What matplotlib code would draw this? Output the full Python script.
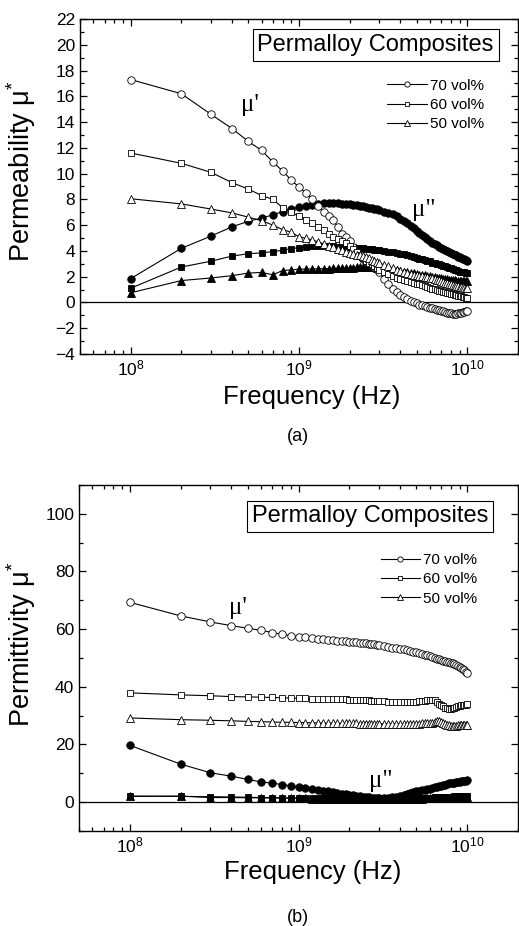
import matplotlib
matplotlib.use("Agg")
import matplotlib.pyplot as plt
from matplotlib.ticker import MultipleLocator, LogLocator, NullFormatter

plt.rcParams["font.family"] = ["Liberation Sans", "DejaVu Sans"]
plt.rcParams["mathtext.default"] = "regular"

# measurement frequencies (GHz)
freq_ghz = [0.1, 0.2, 0.3, 0.4, 0.5, 0.6, 0.7, 0.8, 0.9,
            1.0, 1.1, 1.2, 1.3, 1.4, 1.5, 1.6, 1.7, 1.8, 1.9,
            2.0, 2.1, 2.2, 2.3, 2.4, 2.5, 2.6, 2.7, 2.8, 2.9,
            3.0, 3.2, 3.4, 3.6, 3.8, 4.0, 4.2, 4.4, 4.6, 4.8,
            5.0, 5.2, 5.4, 5.6, 5.8, 6.0, 6.2, 6.4, 6.6, 6.8,
            7.0, 7.2, 7.4, 7.6, 7.8, 8.0, 8.2, 8.4, 8.6, 8.8,
            9.0, 9.2, 9.4, 9.6, 9.8, 10.0]

labels = ["70 vol%", "60 vol%", "50 vol%"]

# (a) permeability, real part
mu1_70 = [17.3, 16.2, 14.6, 13.5, 12.5, 11.8, 10.9, 10.2, 9.5,
          8.95, 8.5, 8.0, 7.45, 7.0, 6.7, 6.4, 5.85, 5.3, 5.05,
          4.8, 4.3, 3.9, 3.6, 3.4, 3.2, 3.05, 2.9, 2.75, 2.6,
          2.35, 1.8, 1.4, 1.05, 0.78, 0.58, 0.42, 0.28, 0.14, 0.02,
          -0.08, -0.16, -0.23, -0.29, -0.35, -0.4, -0.46, -0.52, -0.57, -0.62,
          -0.66, -0.7, -0.74, -0.78, -0.82, -0.85, -0.87, -0.87, -0.86, -0.84,
          -0.81, -0.78, -0.75, -0.72, -0.69, -0.66]
mu1_60 = [11.6, 10.8, 10.1, 9.3, 8.8, 8.3, 8.0, 7.35, 7.0,
          6.7, 6.4, 6.15, 5.85, 5.6, 5.35, 5.1, 4.95, 4.75, 4.6,
          4.4, 4.15, 3.9, 3.65, 3.45, 3.25, 3.1, 2.95, 2.8, 2.65,
          2.5, 2.35, 2.2, 2.05, 1.92, 1.85, 1.77, 1.68, 1.6, 1.52,
          1.45, 1.4, 1.33, 1.27, 1.2, 1.13, 1.08, 1.02, 0.97, 0.92,
          0.88, 0.83, 0.79, 0.75, 0.71, 0.67, 0.63, 0.6, 0.56, 0.53,
          0.5, 0.47, 0.44, 0.41, 0.38, 0.35]
mu1_50 = [8.05, 7.65, 7.25, 6.95, 6.62, 6.35, 6.0, 5.65, 5.45,
          5.1, 4.98, 4.85, 4.7, 4.55, 4.42, 4.3, 4.17, 4.05, 3.95,
          3.85, 3.78, 3.72, 3.66, 3.6, 3.51, 3.42, 3.33, 3.25, 3.15,
          3.06, 2.92, 2.8, 2.66, 2.54, 2.45, 2.37, 2.3, 2.22, 2.15,
          2.1, 2.06, 2.02, 1.98, 1.94, 1.9, 1.86, 1.81, 1.76, 1.71,
          1.66, 1.6, 1.54, 1.49, 1.44, 1.4, 1.36, 1.32, 1.28, 1.25,
          1.22, 1.19, 1.17, 1.15, 1.13, 1.12]

# (a) permeability, imaginary part
mu2_70 = [1.85, 4.2, 5.15, 5.87, 6.3, 6.55, 6.8, 7.05, 7.25,
          7.4, 7.5, 7.6, 7.65, 7.7, 7.72, 7.72, 7.7, 7.68, 7.65,
          7.62, 7.6, 7.57, 7.52, 7.47, 7.42, 7.37, 7.32, 7.27, 7.22,
          7.15, 7.05, 6.95, 6.85, 6.7, 6.5, 6.35, 6.15, 5.95, 5.75,
          5.55, 5.4, 5.2, 5.05, 4.9, 4.8, 4.65, 4.55, 4.45, 4.3,
          4.2, 4.15, 4.1, 4.0, 3.95, 3.85, 3.8, 3.7, 3.65, 3.55,
          3.5, 3.45, 3.4, 3.35, 3.3, 3.25]
mu2_60 = [1.1, 2.75, 3.2, 3.6, 3.78, 3.85, 3.95, 4.05, 4.18,
          4.25, 4.3, 4.35, 4.35, 4.35, 4.35, 4.35, 4.33, 4.3, 4.3,
          4.3, 4.28, 4.25, 4.23, 4.2, 4.18, 4.15, 4.13, 4.1, 4.08,
          4.05, 4.0, 3.95, 3.9, 3.85, 3.8, 3.75, 3.65, 3.6, 3.5,
          3.45, 3.4, 3.35, 3.3, 3.25, 3.2, 3.1, 3.05, 3.0, 2.95,
          2.9, 2.85, 2.8, 2.75, 2.7, 2.65, 2.6, 2.55, 2.5, 2.45,
          2.4, 2.4, 2.35, 2.35, 2.3, 2.3]
mu2_50 = [0.75, 1.7, 1.9, 2.08, 2.28, 2.33, 2.15, 2.48, 2.53,
          2.58, 2.59, 2.6, 2.61, 2.62, 2.63, 2.65, 2.66, 2.68, 2.69,
          2.7, 2.71, 2.72, 2.73, 2.75, 2.75, 2.75, 2.74, 2.72, 2.71,
          2.7, 2.65, 2.6, 2.55, 2.5, 2.45, 2.4, 2.35, 2.3, 2.25,
          2.2, 2.15, 2.12, 2.1, 2.08, 2.05, 2.0, 1.97, 1.93, 1.9,
          1.87, 1.85, 1.82, 1.8, 1.78, 1.76, 1.74, 1.72, 1.7, 1.69,
          1.68, 1.67, 1.66, 1.65, 1.65, 1.64]

# (b) permittivity, real part
eps1_70 = [69.3, 64.6, 62.5, 61.2, 60.3, 59.6, 58.8, 58.2, 57.7,
           57.4, 57.1, 56.9, 56.7, 56.5, 56.3, 56.2, 56.0, 55.9, 55.8,
           55.7, 55.5, 55.4, 55.3, 55.2, 55.1, 55.0, 54.9, 54.7, 54.6,
           54.4, 54.1, 53.8, 53.6, 53.4, 53.2, 53.0, 52.7, 52.4, 52.2,
           52.0, 51.8, 51.5, 51.2, 50.9, 50.6, 50.4, 50.1, 49.8, 49.5,
           49.3, 49.1, 48.9, 48.7, 48.6, 48.4, 48.1, 47.8, 47.5, 47.2,
           46.9, 46.6, 46.2, 45.8, 45.3, 44.8]
eps1_60 = [37.9, 37.2, 36.9, 36.6, 36.5, 36.4, 36.3, 36.2, 36.1,
           36.0, 36.0, 35.9, 35.9, 35.8, 35.8, 35.7, 35.7, 35.6, 35.6,
           35.5, 35.5, 35.4, 35.4, 35.3, 35.3, 35.3, 35.2, 35.2, 35.2,
           35.1, 35.0, 34.9, 34.9, 34.8, 34.8, 34.7, 34.7, 34.7, 34.8,
           34.9, 35.0, 35.1, 35.2, 35.3, 35.4, 35.5, 35.3, 34.8, 34.2,
           33.7, 33.2, 32.8, 32.5, 32.4, 32.4, 32.5, 32.7, 32.9, 33.2,
           33.4, 33.6, 33.7, 33.8, 33.8, 33.9]
eps1_50 = [29.2, 28.6, 28.4, 28.2, 28.0, 27.9, 27.8, 27.7, 27.7,
           27.6, 27.6, 27.5, 27.5, 27.4, 27.4, 27.4, 27.4, 27.3, 27.3,
           27.3, 27.3, 27.3, 27.2, 27.2, 27.2, 27.2, 27.2, 27.2, 27.2,
           27.2, 27.2, 27.2, 27.2, 27.2, 27.2, 27.2, 27.2, 27.2, 27.2,
           27.2, 27.2, 27.3, 27.3, 27.4, 27.5, 27.6, 27.9, 28.0, 28.0,
           27.8, 27.4, 27.0, 26.7, 26.6, 26.5, 26.5, 26.5, 26.5, 26.6,
           26.6, 26.7, 26.7, 26.8, 26.8, 26.8]

# (b) permittivity, imaginary part
eps2_70 = [19.7, 13.2, 10.2, 9.0, 7.9, 7.0, 6.6, 6.1, 5.7,
           5.3, 4.95, 4.6, 4.3, 4.0, 3.75, 3.5, 3.25, 3.0, 2.8,
           2.6, 2.4, 2.2, 2.05, 1.9, 1.8, 1.7, 1.6, 1.5, 1.45,
           1.4, 1.4, 1.5, 1.7, 1.9, 2.2, 2.5, 2.8, 3.1, 3.4,
           3.7, 3.9, 4.1, 4.3, 4.5, 4.7, 4.9, 5.1, 5.3, 5.5,
           5.7, 5.9, 6.1, 6.3, 6.5, 6.6, 6.7, 6.8, 6.9, 7.0,
           7.1, 7.2, 7.3, 7.4, 7.5, 7.6]
eps2_60 = [2.1, 2.0, 1.9, 1.8, 1.7, 1.6, 1.55, 1.5, 1.45,
           1.4, 1.4, 1.35, 1.35, 1.3, 1.3, 1.3, 1.25, 1.25, 1.25,
           1.2, 1.2, 1.2, 1.2, 1.2, 1.2, 1.2, 1.2, 1.2, 1.2,
           1.2, 1.2, 1.2, 1.25, 1.25, 1.3, 1.3, 1.35, 1.35, 1.4,
           1.4, 1.45, 1.5, 1.5, 1.55, 1.6, 1.6, 1.65, 1.7, 1.7,
           1.75, 1.8, 1.8, 1.85, 1.9, 1.9, 1.95, 2.0, 2.0, 2.05,
           2.1, 2.1, 2.15, 2.15, 2.2, 2.2]
eps2_50 = [2.0, 2.1, 1.6, 1.6, 1.5, 1.5, 1.45, 1.4, 1.35,
           1.3, 1.3, 1.25, 1.25, 1.2, 1.2, 1.15, 1.15, 1.1, 1.1,
           1.1, 1.05, 1.05, 1.05, 1.0, 1.0, 1.0, 1.0, 1.0, 1.0,
           1.0, 1.0, 1.0, 1.05, 1.05, 1.1, 1.1, 1.15, 1.15, 1.2,
           1.2, 1.25, 1.25, 1.3, 1.3, 1.35, 1.35, 1.4, 1.4, 1.45,
           1.45, 1.5, 1.5, 1.55, 1.55, 1.6, 1.6, 1.65, 1.65, 1.7,
           1.7, 1.75, 1.75, 1.8, 1.8, 1.85]


def draw_panel(ax, real_parts, imag_parts, ylim, major, minor, ylabel):
    freq = [f * 1e9 for f in freq_ghz]
    markers = ["o", "s", "^"]
    sizes = [5.4, 4.8, 5.8]
    for vals, m, ms in zip(imag_parts, markers, sizes):
        ax.plot(freq, vals, "-", color="black", lw=0.8, marker=m, ms=ms,
                mfc="black", mec="black", mew=0.6)
    handles = []
    for vals, m, ms, lab in zip(real_parts, markers, sizes, labels):
        h, = ax.plot(freq, vals, "-", color="black", lw=0.8, marker=m, ms=ms,
                     mfc="white", mec="black", mew=0.6, label=lab)
        handles.append(h)
    ax.axhline(0, color="black", lw=0.9, zorder=1)

    ax.set_xscale("log")
    ax.set_xlim(5e7, 2e10)
    ax.set_ylim(*ylim)
    ax.xaxis.set_major_locator(LogLocator(base=10))
    ax.xaxis.set_minor_locator(LogLocator(base=10, subs=range(2, 10)))
    ax.xaxis.set_minor_formatter(NullFormatter())
    ax.yaxis.set_major_locator(MultipleLocator(major))
    ax.yaxis.set_minor_locator(MultipleLocator(minor))
    ax.tick_params(which="both", direction="in", top=True, right=True,
                   labelsize=12.5, width=0.9)
    ax.tick_params(which="major", length=5)
    ax.tick_params(which="minor", length=3)
    for s in ax.spines.values():
        s.set_linewidth(1.0)

    ax.set_xlabel("Frequency (Hz)", fontsize=18.5)
    ax.set_ylabel(ylabel, fontsize=19.5)
    return handles


fig = plt.figure(figsize=(5.19, 9.26), dpi=100)
ax_a = fig.add_axes([0.1541, 0.6177, 0.8439, 0.3618])
ax_b = fig.add_axes([0.1522, 0.1026, 0.8459, 0.3737])

serif = ["Liberation Serif", "DejaVu Serif"]
box = dict(boxstyle="square,pad=0.2", fc="white", ec="black", lw=0.8)

h = draw_panel(ax_a, [mu1_70, mu1_60, mu1_50], [mu2_70, mu2_60, mu2_50],
               (-4, 22), 2, 1, "Permeability μ$^{*}$")
ax_a.legend(handles=h, loc="upper right", bbox_to_anchor=(0.94, 0.845),
            frameon=False, fontsize=11, handlelength=2.6, handletextpad=0.2,
            borderpad=0, labelspacing=0.35, markerscale=0.7)
ax_a.text(0.675, 0.922, "Permalloy Composites", transform=ax_a.transAxes,
          ha="center", va="center", fontsize=17, bbox=box)
ax_a.text(5.1e8, 15.3, "μ'", family=serif, fontsize=18, ha="center", va="center")
ax_a.text(5.5e9, 7.2, 'μ"', family=serif, fontsize=18, ha="center", va="center")
ax_a.xaxis.set_label_coords(0.53, -0.093)
ax_a.yaxis.set_label_coords(-0.095, 0.545)

h = draw_panel(ax_b, [eps1_70, eps1_60, eps1_50], [eps2_70, eps2_60, eps2_50],
               (-10, 110), 20, 10, "Permittivity μ$^{*}$")
ax_b.legend(handles=h, loc="upper right", bbox_to_anchor=(0.925, 0.825),
            frameon=False, fontsize=11, handlelength=2.6, handletextpad=0.2,
            borderpad=0, labelspacing=0.35, markerscale=0.7)
ax_b.text(0.663, 0.909, "Permalloy Composites", transform=ax_b.transAxes,
          ha="center", va="center", fontsize=17, bbox=box)
ax_b.text(4.4e8, 67.3, "μ'", family=serif, fontsize=18, ha="center", va="center")
ax_b.text(3.06e9, 7.2, 'μ"', family=serif, fontsize=18, ha="center", va="center")
ax_b.xaxis.set_label_coords(0.533, -0.085)
ax_b.yaxis.set_label_coords(-0.093, 0.54)

fig.text(0.575, 0.529, "(a)", ha="center", va="center", fontsize=13)
fig.text(0.575, 0.0097, "(b)", ha="center", va="center", fontsize=13)

fig.savefig("out.png", dpi=100)
